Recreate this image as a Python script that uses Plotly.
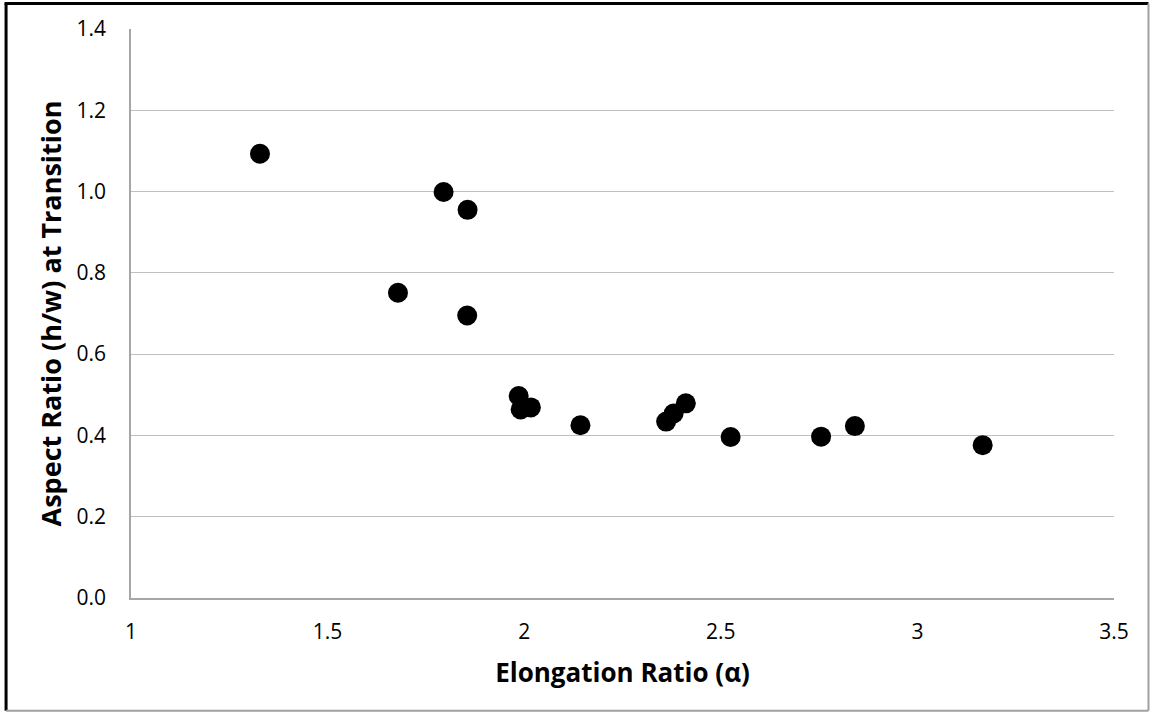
import plotly.graph_objects as go

# Data
elongation_ratio = [1.328, 1.679, 1.795, 1.856, 1.855, 1.986, 1.991, 2.017, 2.143,
                    2.361, 2.380, 2.411, 2.525, 2.755, 2.841, 3.166]
aspect_ratio = [1.093, 0.751, 0.999, 0.955, 0.695, 0.497, 0.464, 0.469, 0.425,
                0.434, 0.454, 0.479, 0.396, 0.397, 0.423, 0.376]

x_ticks = [1, 1.5, 2, 2.5, 3, 3.5]
y_ticks = [0.0, 0.2, 0.4, 0.6, 0.8, 1.0, 1.2, 1.4]

W, H = 1150, 712
L, R, T, B = 130.5, 36, 29, 114.3

fig = go.Figure(go.Scatter(
    x=elongation_ratio, y=aspect_ratio, mode="markers",
    marker=dict(size=20, color="black", line=dict(width=0)),
    showlegend=False,
))

font = "Open Sans"
fig.update_layout(
    width=W, height=H,
    margin=dict(l=L, r=R, t=T, b=B, pad=0),
    paper_bgcolor="white", plot_bgcolor="white",
    font=dict(family=font, color="black"),
    xaxis=dict(
        range=[1, 3.5], tickvals=x_ticks, ticktext=[str(v) for v in x_ticks],
        showgrid=False, zeroline=False, showline=True, linecolor="#a6a6a6", linewidth=1.5,
        ticks="", tickfont=dict(size=21, family=font), ticklabelstandoff=14,
        title=dict(text="<b>Elongation Ratio (α)</b>", font=dict(size=26, family=font), standoff=20),
    ),
    yaxis=dict(
        range=[0, 1.4], tickvals=y_ticks, ticktext=[f"{v:.1f}" for v in y_ticks],
        showgrid=True, gridcolor="#c0c0c0", gridwidth=1, zeroline=False,
        showline=True, linecolor="#a6a6a6", linewidth=1.5,
        ticks="", tickfont=dict(size=21, family=font), ticklabelstandoff=19,
        title=dict(text="<b>Aspect Ratio (h/w) at Transition</b>", font=dict(size=27, family=font), standoff=7),
    ),
)

pw = W - L - R
ph = H - T - B
def px(xp):
    return (xp - L) / pw
def py(yp):
    return (H - B - yp) / ph

shapes = [
    dict(type="line", xref="paper", yref="paper", x0=px(5.5), x1=px(5.5), y0=py(3.5), y1=py(710.5),
         line=dict(color="black", width=3)),
    dict(type="line", xref="paper", yref="paper", x0=px(4), x1=px(1148.5), y0=py(3.5), y1=py(3.5),
         line=dict(color="black", width=3)),
    dict(type="line", xref="paper", yref="paper", x0=px(1148.5), x1=px(1148.5), y0=py(3.5), y1=py(710.5),
         line=dict(color="#a0a0a0", width=2)),
    dict(type="line", xref="paper", yref="paper", x0=px(5.5), x1=px(1148.5), y0=py(710.5), y1=py(710.5),
         line=dict(color="#a0a0a0", width=2)),
]
fig.update_layout(shapes=shapes)

fig.write_html("out.html")
